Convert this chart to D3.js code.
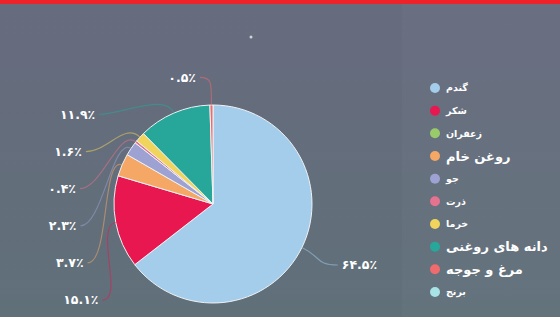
<!DOCTYPE html>
<html>
<head>
<meta charset="utf-8">
<script src="https://cdn.jsdelivr.net/npm/d3@7"></script>
<style>
  html, body { margin: 0; padding: 0; background: #646a7b; }
  svg { display: block; }
</style>
</head>
<body>
<svg width="560" height="317"></svg>
<script>
// data
var products = ['گندم', 'شکر', 'زعفران', 'روغن خام', 'جو', 'ذرت', 'خرما', 'دانه های روغنی', 'مرغ و جوجه', 'برنج'];
var shares   = [64.5, 15.1, 0, 3.7, 2.3, 0.4, 1.6, 11.9, 0.5, 0];
var colors   = ['#a4cdec', '#e8174f', '#9acb6b', '#f5a866', '#9ea2d3', '#e5728f', '#f1d45c', '#27a79a', '#ef6b6d', '#a8e3e6'];
var bigNames = ['روغن خام', 'دانه های روغنی', 'مرغ و جوجه'];

var rows = products.map(function(p, i) { return { name: p, share: shares[i], color: colors[i] }; });

var svg = d3.select('svg'),
    w = +svg.attr('width'),
    h = +svg.attr('height');

// background
var defs = svg.append('defs');
var grad = defs.append('linearGradient').attr('id', 'bg').attr('x1', 0).attr('y1', 0).attr('x2', 0).attr('y2', 1);
grad.append('stop').attr('offset', '0%').attr('stop-color', '#676b7e');
grad.append('stop').attr('offset', '100%').attr('stop-color', '#607079');

svg.append('rect').attr('width', w).attr('height', h).attr('fill', 'url(#bg)');
svg.append('rect').attr('x', 402).attr('y', 0).attr('width', w - 402).attr('height', h)
    .attr('fill', '#ffffff').attr('opacity', 0.025);
svg.append('rect').attr('width', w).attr('height', 4).attr('fill', '#ee2229');
svg.append('circle').attr('cx', 251).attr('cy', 37).attr('r', 1.5).attr('fill', '#fff').attr('opacity', 0.7);

var toFa = function(v) {
  return v.toFixed(1).replace(/\d/g, function(d) { return '۰۱۲۳۴۵۶۷۸۹'[+d]; }) + '٪';
};

// pie
var cx = 213, cy = 204, r = 99;
var g = svg.append('g').attr('transform', 'translate(' + cx + ',' + cy + ')');

var pie = d3.pie().sort(null).value(function(d) { return d.share; });
var arc = d3.arc().innerRadius(0).outerRadius(r);
var arcs = pie(rows);

g.selectAll('path.slice')
  .data(arcs)
  .enter()
  .append('path')
  .attr('class', 'slice')
  .attr('d', arc)
  .attr('fill', function(d) { return d.data.color; })
  .attr('stroke', '#eef2f5')
  .attr('stroke-width', function(d) { return d.data.share > 0 ? 1 : 0; });

// label layout
var mid = function(d) { return (d.startAngle + d.endAngle) / 2; };
var labelled = arcs.filter(function(d) { return d.data.share > 0; });
var rightSide = labelled.filter(function(d) { return Math.sin(mid(d)) > 0.1; });
var leftSide = labelled.filter(function(d) { return Math.sin(mid(d)) <= 0.1; })
    .sort(function(a, b) { return mid(b) - mid(a); });

var ea = r * 1.39, eb = r * 1.75;
var spread = function(dy) { return ea * Math.sqrt(Math.max(0, 1 - (dy / eb) * (dy / eb))); };

var leftY = d3.scalePoint()
    .domain(leftSide.map(function(d) { return d.data.name; }))
    .range([-r * 1.28, r * 0.97]);

var labels = [];
leftSide.forEach(function(d) {
  var y = leftY(d.data.name);
  var top = Math.abs(Math.sin(mid(d))) < 0.1;
  var x = top ? -17 : -spread(y);
  labels.push({ d: d, x: x, y: y, anchor: 'end', top: top });
});
rightSide.forEach(function(d) {
  var y = -r * 1.4 * Math.cos(mid(d));
  labels.push({ d: d, x: spread(y), y: y, anchor: 'start', top: false });
});

// leader lines
g.selectAll('path.tick')
  .data(labels)
  .enter()
  .append('path')
  .attr('class', 'tick')
  .attr('d', function(l) {
    var a = mid(l.d),
        sx = r * Math.sin(a), sy = -r * Math.cos(a),
        ex = l.anchor === 'end' ? l.x + 4 : l.x - 4,
        ey = l.y,
        p = d3.path();
    p.moveTo(sx, sy);
    if (l.top) {
      p.bezierCurveTo(sx, sy - 22, ex + 12, ey, ex, ey);
    } else {
      p.bezierCurveTo(sx + Math.sin(a) * 22, sy - Math.cos(a) * 22,
                      ex + (l.anchor === 'end' ? 22 : -22), ey, ex, ey);
    }
    return p.toString();
  })
  .attr('fill', 'none')
  .attr('stroke', function(l) { return l.d.data.color; })
  .attr('stroke-opacity', 0.5)
  .attr('stroke-width', 1.2);

g.selectAll('text.pct')
  .data(labels)
  .enter()
  .append('text')
  .attr('class', 'pct')
  .attr('x', function(l) { return l.x; })
  .attr('y', function(l) { return l.y; })
  .attr('dy', '0.35em')
  .attr('text-anchor', function(l) { return l.anchor; })
  .attr('fill', '#ffffff')
  .style('font-family', '"DejaVu Sans", sans-serif')
  .style('font-weight', 'bold')
  .style('font-size', '12.5px')
  .text(function(l) { return toFa(l.d.data.share); });

// legend
var legY = d3.scalePoint().domain(products).range([88, 292]);
var leg = svg.append('g').attr('class', 'legend');

leg.selectAll('circle')
  .data(rows)
  .enter()
  .append('circle')
  .attr('cx', 435)
  .attr('cy', function(d) { return legY(d.name); })
  .attr('r', 5)
  .attr('fill', function(d) { return d.color; });

leg.selectAll('text')
  .data(rows)
  .enter()
  .append('text')
  .attr('x', 446)
  .attr('y', function(d) { return legY(d.name); })
  .attr('dy', '0.35em')
  .attr('fill', '#ffffff')
  .style('font-family', '"DejaVu Sans", sans-serif')
  .style('font-weight', 'bold')
  .style('font-size', function(d) { return bigNames.indexOf(d.name) > -1 ? '13px' : '9.5px'; })
  .text(function(d) { return d.name; });
</script>
</body>
</html>
